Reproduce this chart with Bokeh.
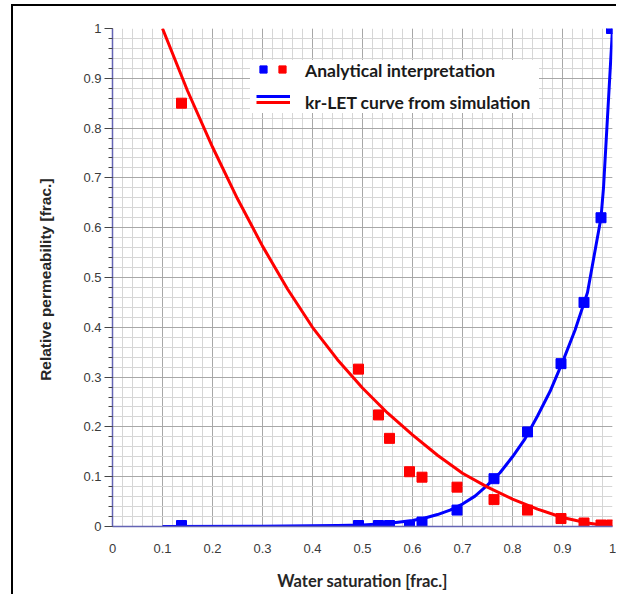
from bokeh.plotting import figure
from bokeh.models import (Range1d, SingleIntervalTicker, NumeralTickFormatter,
                          Legend, LegendItem)
from bokeh.embed import file_html
from bokeh.resources import INLINE

# ---- data ----
sw_points = [0.138, 0.492, 0.532, 0.554, 0.594, 0.619, 0.689, 0.763, 0.830, 0.897, 0.943, 0.977, 0.998]
krw_points = [0.002, 0.002, 0.002, 0.002, 0.002, 0.009, 0.033, 0.096, 0.190, 0.327, 0.450, 0.620, 1.000]
kro_points = [0.850, 0.316, 0.224, 0.177, 0.110, 0.099, 0.079, 0.054, 0.033, 0.016, 0.007, 0.003, 0.003]

sw_curve_o = [0.10, 0.15, 0.20, 0.25, 0.30, 0.35, 0.40, 0.45, 0.50, 0.55, 0.60, 0.65,
              0.70, 0.75, 0.80, 0.85, 0.90, 0.95, 1.00]
kro_curve = [1.000, 0.875, 0.762, 0.658, 0.563, 0.477, 0.400, 0.335, 0.278, 0.228, 0.184, 0.143,
             0.107, 0.079, 0.055, 0.035, 0.018, 0.007, 0.0]

sw_curve_w = [0.10, 0.30, 0.45, 0.50, 0.55, 0.60, 0.625, 0.65, 0.675, 0.70, 0.725, 0.75,
              0.775, 0.80, 0.825, 0.85, 0.875, 0.90, 0.925, 0.95, 0.977, 0.982, 1.00]
krw_curve = [0.0, 0.0005, 0.002, 0.003, 0.006, 0.012, 0.017, 0.024, 0.033, 0.045, 0.061, 0.083,
             0.108, 0.140, 0.176, 0.222, 0.271, 0.330, 0.394, 0.470, 0.620, 0.680, 1.0]

legend_labels = ["Analytical interpretation", "kr-LET curve from simulation"]
x_title = "Water saturation [frac.]"
y_title = "Relative permeability  [frac.]"

BLUE = "#0000ff"
RED = "#ff0000"

p = figure(width=605, height=590, x_range=Range1d(0, 1), y_range=Range1d(0, 1),
           output_backend="svg", toolbar_location=None,
           min_border_left=99, min_border_right=6, min_border_top=22, min_border_bottom=70)
p.styles = {"border-top": "2px solid black", "border-left": "2px solid black",
            "margin-top": "4px", "margin-left": "11px"}
p.outline_line_color = None
p.background_fill_color = "white"

for ax in (p.xaxis[0], p.yaxis[0]):
    ax.ticker = SingleIntervalTicker(interval=0.1, num_minor_ticks=5)
    ax.formatter = NumeralTickFormatter(format="0.[0]")
    ax.axis_line_color = "#6464b4"
    ax.axis_line_width = 1.5
    ax.major_label_text_font = "Liberation Sans"
    ax.major_label_text_font_size = "13px"
    ax.major_label_text_color = "#3a3a3a"
    ax.axis_label_text_font_style = "bold"
    ax.axis_label_text_color = "#262626"

p.xaxis.major_tick_out = 0
p.xaxis.major_tick_in = 0
p.xaxis.minor_tick_out = 0
p.xaxis.minor_tick_in = 0
p.xaxis.major_tick_line_color = None
p.xaxis.minor_tick_line_color = None
p.xaxis.major_label_standoff = 17
p.xaxis.axis_label = x_title
p.xaxis.axis_label_text_font = "Lato"
p.xaxis.axis_label_text_font_size = "16.5px"
p.xaxis.axis_label_standoff = 15

p.yaxis.major_tick_out = 8
p.yaxis.major_tick_in = 0
p.yaxis.minor_tick_out = 4
p.yaxis.minor_tick_in = 0
p.yaxis.major_tick_line_color = "#444444"
p.yaxis.minor_tick_line_color = "#444444"
p.yaxis.major_label_standoff = 3
p.yaxis.axis_label = y_title
p.yaxis.axis_label_text_font = "Liberation Sans"
p.yaxis.axis_label_text_font_size = "15.5px"
p.yaxis.axis_label_standoff = 26

for g in (p.xgrid[0], p.ygrid[0]):
    g.ticker = SingleIntervalTicker(interval=0.1, num_minor_ticks=5)
    g.grid_line_color = "#a8a8a8"
    g.grid_line_width = 1
    g.minor_grid_line_color = "#d6d6d6"
    g.minor_grid_line_width = 1

# curves
bl = p.line(sw_curve_w, krw_curve, line_color=BLUE, line_width=3, line_join="round")
rl = p.line(sw_curve_o, kro_curve, line_color=RED, line_width=3, line_join="round")
# points
bs = p.scatter(sw_points, krw_points, marker="square", size=10, fill_color=BLUE, line_color=BLUE)
rs = p.scatter(sw_points, kro_points, marker="square", size=10, fill_color=RED, line_color=RED)

# invisible holders for the legend text block
d1 = p.scatter([], [], marker="square", size=1, fill_alpha=0, line_alpha=0)
d2 = p.line([], [], line_alpha=0)

main_leg = Legend(items=[LegendItem(label=legend_labels[0], renderers=[d1]),
                         LegendItem(label=legend_labels[1], renderers=[d2])],
                  location=(138, 413), orientation="vertical",
                  glyph_width=40, glyph_height=20, label_height=20, label_width=234,
                  spacing=11, padding=6, margin=0, label_standoff=15,
                  background_fill_color="white", background_fill_alpha=1,
                  border_line_color=None,
                  label_text_font="Lato", label_text_font_style="bold",
                  label_text_font_size="17.5px", label_text_color="#1a1a1a")

key_pts = Legend(items=[LegendItem(label="", renderers=[bs]),
                        LegendItem(label="", renderers=[rs])],
                 location=(142, 448), orientation="horizontal",
                 glyph_width=18, glyph_height=18, label_height=0, label_width=0,
                 spacing=1, padding=0, margin=0, label_standoff=0,
                 label_text_font_size="1px",
                 background_fill_alpha=0, border_line_color=None)

key_lines = Legend(items=[LegendItem(label="", renderers=[bl]),
                          LegendItem(label="", renderers=[rl])],
                   location=(144, 421), orientation="vertical",
                   glyph_width=34, glyph_height=6, label_height=0, label_width=0,
                   spacing=0, padding=0, margin=0, label_standoff=0,
                   label_text_font_size="1px",
                   background_fill_alpha=0, border_line_color=None)

p.add_layout(main_leg, "center")
p.add_layout(key_pts, "center")
p.add_layout(key_lines, "center")

open("out.html", "w").write(file_html(p, INLINE))
